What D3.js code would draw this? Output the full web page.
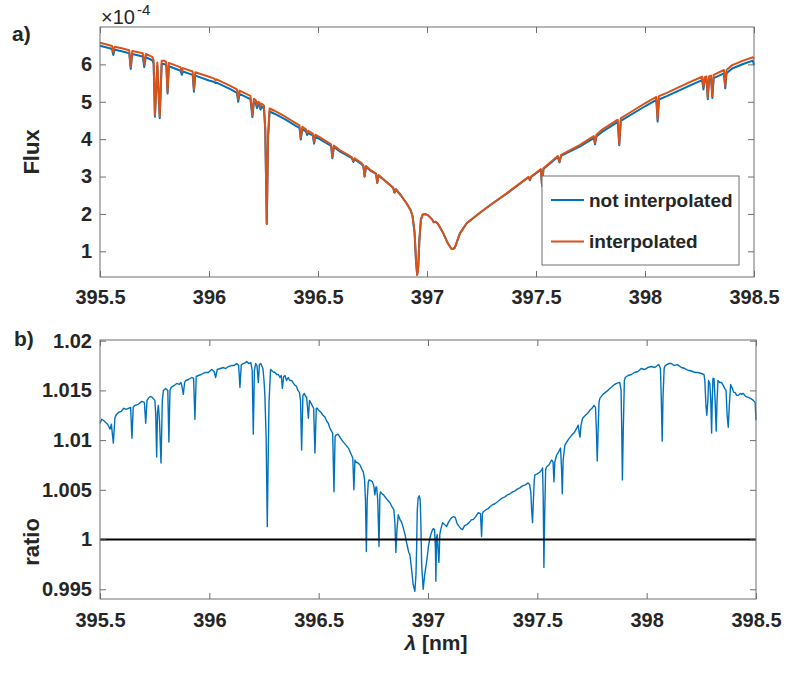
<!DOCTYPE html>
<html>
<head>
<meta charset="utf-8">
<script src="https://cdn.jsdelivr.net/npm/d3@7"></script>
<style>
  body { margin: 0; background: #fff; }
  svg text { font-family: "Liberation Sans", Arial, sans-serif; fill: #262626; }
</style>
</head>
<body>
<div id="chart"></div>
<script>
// spectrum, flux in units of 1e-4
var fluxLambda = [395.500,395.540,395.555,395.561,395.567,395.600,395.634,395.641,395.648,395.696,395.703,395.710,395.740,395.746,395.752,395.763,395.774,395.783,395.795,395.804,395.810,395.816,395.870,395.875,395.880,395.925,395.931,395.937,396.000,396.025,396.030,396.035,396.100,396.128,396.134,396.140,396.190,396.199,396.206,396.215,396.220,396.226,396.232,396.236,396.242,396.252,396.258,396.265,396.271,396.278,396.300,396.350,396.400,396.415,396.421,396.428,396.445,396.450,396.455,396.476,396.482,396.488,396.500,396.560,396.566,396.573,396.600,396.655,396.662,396.668,396.700,396.708,396.714,396.720,396.740,396.766,396.772,396.778,396.800,396.845,396.851,396.857,396.880,396.907,396.925,396.934,396.943,396.950,396.955,396.960,396.965,396.972,396.980,396.990,397.005,397.025,397.030,397.040,397.050,397.075,397.095,397.110,397.118,397.128,397.140,397.151,397.182,397.243,397.300,397.365,397.420,397.466,397.472,397.478,397.515,397.522,397.528,397.534,397.600,397.608,397.615,397.700,397.765,397.771,397.777,397.800,397.875,397.882,397.889,397.900,398.000,398.052,398.058,398.064,398.100,398.200,398.262,398.268,398.274,398.282,398.288,398.294,398.303,398.309,398.315,398.362,398.368,398.374,398.400,398.450,398.495,398.500];
var fluxInterp = [6.58,6.52,6.49,6.32,6.47,6.43,6.38,5.94,6.36,6.30,6.00,6.28,6.20,6.10,4.64,6.05,4.60,6.10,6.10,6.06,5.27,6.04,5.92,5.80,5.90,5.81,5.33,5.79,5.67,5.62,5.58,5.60,5.42,5.33,5.07,5.30,5.16,4.64,5.08,5.04,4.90,5.00,4.98,4.86,4.95,4.90,4.30,1.73,4.10,4.82,4.76,4.60,4.42,4.37,4.04,4.33,4.26,4.17,4.22,4.15,3.93,4.12,4.08,3.86,3.52,3.83,3.71,3.52,3.42,3.49,3.36,3.30,3.00,3.28,3.18,3.08,2.83,3.04,2.93,2.70,2.57,2.66,2.50,2.28,2.10,1.93,1.50,0.70,0.37,0.60,1.30,1.85,1.98,2.00,1.96,1.84,1.78,1.79,1.74,1.48,1.22,1.08,1.06,1.10,1.30,1.48,1.75,2.03,2.28,2.55,2.79,2.99,2.92,3.00,3.17,3.20,2.75,3.22,3.55,3.40,3.58,3.84,4.08,3.90,4.12,4.24,4.52,3.87,4.56,4.60,4.96,5.13,4.53,5.15,5.24,5.51,5.67,5.40,5.66,5.68,5.12,5.68,5.70,5.15,5.72,5.85,5.42,5.85,5.98,6.10,6.19,6.15];
var fluxNotInterp = [6.50,6.44,6.41,6.25,6.39,6.35,6.30,5.88,6.28,6.21,5.93,6.19,6.11,6.02,4.60,5.97,4.56,6.01,6.01,5.97,5.22,5.95,5.83,5.72,5.81,5.72,5.27,5.70,5.57,5.53,5.50,5.51,5.33,5.24,5.00,5.21,5.07,4.59,4.99,4.95,4.83,4.92,4.90,4.79,4.87,4.82,4.25,1.73,4.05,4.74,4.68,4.53,4.35,4.30,3.99,4.27,4.20,4.11,4.16,4.10,3.88,4.07,4.03,3.82,3.49,3.79,3.67,3.49,3.39,3.46,3.33,3.28,3.00,3.26,3.16,3.07,2.83,3.03,2.92,2.70,2.57,2.66,2.50,2.28,2.10,1.93,1.50,0.70,0.37,0.60,1.30,1.85,1.98,2.00,1.96,1.84,1.78,1.79,1.74,1.48,1.22,1.08,1.06,1.10,1.30,1.48,1.75,2.03,2.28,2.54,2.78,2.98,2.90,2.99,3.15,3.18,2.74,3.20,3.52,3.38,3.55,3.80,4.03,3.86,4.07,4.18,4.46,3.84,4.49,4.53,4.88,5.05,4.47,5.06,5.15,5.42,5.58,5.33,5.57,5.59,5.07,5.59,5.61,5.10,5.63,5.76,5.36,5.76,5.89,6.01,6.10,5.98];

// ratio interpolated / not interpolated
var ratioLambda = [395.500,395.508,395.515,395.525,395.535,395.546,395.552,395.561,395.568,395.573,395.585,395.597,395.609,395.620,395.640,395.646,395.652,395.660,395.675,395.691,395.703,395.709,395.715,395.721,395.730,395.739,395.751,395.755,395.759,395.763,395.767,395.772,395.779,395.785,395.790,395.800,395.810,395.815,395.820,395.825,395.840,395.851,395.863,395.870,395.875,395.881,395.887,395.892,395.905,395.919,395.928,395.934,395.940,395.950,395.962,395.980,395.995,396.011,396.022,396.029,396.036,396.050,396.065,396.075,396.087,396.100,396.112,396.125,396.134,396.140,396.146,396.155,396.165,396.171,396.180,396.190,396.196,396.201,396.206,396.212,396.218,396.224,396.229,396.235,396.245,396.250,396.254,396.260,396.265,396.269,396.273,396.280,396.290,396.300,396.308,396.316,396.323,396.329,396.334,396.340,396.346,396.353,396.361,396.368,396.376,396.385,396.392,396.399,396.405,396.412,396.417,396.422,396.428,396.434,396.440,396.445,396.453,396.458,396.463,396.470,396.477,396.483,396.489,396.494,396.500,396.510,396.520,396.529,396.537,396.544,396.550,396.556,396.564,396.570,396.575,396.579,396.589,396.600,396.613,396.625,396.636,396.646,396.656,396.661,396.666,396.670,396.680,396.689,396.697,396.704,396.710,396.714,396.718,396.722,396.727,396.731,396.740,396.746,396.752,396.757,396.762,396.765,396.770,396.776,396.780,396.783,396.790,396.797,396.803,396.810,396.818,396.826,396.835,396.844,396.849,396.853,396.858,396.864,396.872,396.880,396.888,396.895,396.902,396.907,396.912,396.917,396.925,396.932,396.940,396.945,396.948,396.951,396.955,396.960,396.964,396.967,396.971,396.978,396.985,396.994,397.002,397.009,397.017,397.024,397.030,397.034,397.036,397.039,397.042,397.046,397.050,397.054,397.058,397.067,397.076,397.085,397.095,397.108,397.118,397.125,397.133,397.143,397.150,397.158,397.167,397.177,397.188,397.199,397.207,397.218,397.230,397.240,397.245,397.249,397.253,397.265,397.275,397.283,397.295,397.306,397.318,397.329,397.341,397.352,397.364,397.375,397.387,397.398,397.410,397.420,397.432,397.445,397.458,397.465,397.470,397.474,397.478,397.482,397.486,397.489,397.500,397.512,397.520,397.524,397.527,397.530,397.534,397.538,397.542,397.553,397.565,397.572,397.576,397.580,397.588,397.597,397.606,397.611,397.614,397.618,397.626,397.640,397.657,397.670,397.680,397.687,397.691,397.695,397.700,397.707,397.720,397.730,397.740,397.750,397.759,397.766,397.770,397.774,397.778,397.782,397.786,397.800,397.817,397.832,397.847,397.862,397.877,397.883,397.886,397.889,397.893,397.898,397.902,397.915,397.930,397.944,397.960,397.975,397.990,398.005,398.021,398.037,398.055,398.063,398.067,398.071,398.075,398.080,398.085,398.100,398.113,398.125,398.140,398.159,398.175,398.190,398.197,398.210,398.222,398.235,398.250,398.262,398.266,398.271,398.275,398.280,398.283,398.289,398.293,398.297,398.300,398.303,398.308,398.313,398.318,398.322,398.326,398.334,398.342,398.350,398.357,398.363,398.368,398.373,398.378,398.384,398.392,398.398,398.404,398.412,398.419,398.428,398.435,398.442,398.452,398.465,398.475,398.488,398.496,398.500];
var ratioValues = [1.0117,1.0121,1.0120,1.0118,1.0116,1.0111,1.0116,1.0097,1.0122,1.0125,1.0128,1.0129,1.0132,1.0131,1.0133,1.0102,1.0133,1.0135,1.0136,1.0139,1.0138,1.0117,1.0140,1.0142,1.0144,1.0143,1.0140,1.0125,1.0083,1.0128,1.0135,1.0120,1.0077,1.0140,1.0150,1.0152,1.0150,1.0098,1.0150,1.0153,1.0155,1.0157,1.0156,1.0158,1.0154,1.0146,1.0158,1.0160,1.0161,1.0163,1.0162,1.0121,1.0164,1.0165,1.0166,1.0168,1.0168,1.0171,1.0169,1.0163,1.0171,1.0172,1.0173,1.0172,1.0174,1.0175,1.0175,1.0177,1.0175,1.0153,1.0176,1.0177,1.0178,1.0179,1.0177,1.0178,1.0170,1.0106,1.0170,1.0177,1.0175,1.0158,1.0176,1.0177,1.0172,1.0160,1.0145,1.0100,1.0013,1.0080,1.0138,1.0171,1.0169,1.0168,1.0166,1.0166,1.0163,1.0165,1.0152,1.0164,1.0165,1.0160,1.0163,1.0160,1.0160,1.0157,1.0155,1.0154,1.0150,1.0148,1.0140,1.0090,1.0145,1.0147,1.0144,1.0143,1.0122,1.0140,1.0138,1.0135,1.0132,1.0087,1.0132,1.0132,1.0130,1.0128,1.0125,1.0123,1.0119,1.0117,1.0113,1.0110,1.0107,1.0048,1.0103,1.0105,1.0106,1.0102,1.0098,1.0095,1.0092,1.0087,1.0082,1.0050,1.0080,1.0078,1.0077,1.0075,1.0071,1.0068,1.0060,1.0040,0.9988,1.0040,1.0058,1.0060,1.0059,1.0058,1.0054,1.0045,1.0053,1.0053,1.0040,0.9993,1.0045,1.0048,1.0046,1.0045,1.0043,1.0041,1.0039,1.0037,1.0033,1.0030,1.0015,0.9987,1.0010,1.0025,1.0020,1.0017,1.0011,1.0005,0.9997,0.9992,0.9987,0.9985,0.9970,0.9955,0.9948,0.9965,0.9992,1.0030,1.0042,1.0044,1.0040,1.0020,0.9975,0.9950,0.9965,0.9978,0.9993,1.0002,1.0008,1.0011,1.0010,0.9990,0.9958,1.0002,1.0005,0.9990,0.9977,1.0005,1.0010,1.0017,1.0015,1.0013,1.0018,1.0022,1.0023,1.0022,1.0016,1.0013,1.0011,1.0010,1.0014,1.0015,1.0017,1.0020,1.0020,1.0023,1.0027,1.0026,1.0003,1.0026,1.0028,1.0030,1.0031,1.0033,1.0035,1.0036,1.0038,1.0040,1.0042,1.0043,1.0045,1.0046,1.0048,1.0049,1.0051,1.0052,1.0054,1.0055,1.0057,1.0055,1.0048,1.0030,1.0017,1.0040,1.0060,1.0065,1.0066,1.0068,1.0070,1.0072,1.0040,0.9972,1.0030,1.0070,1.0073,1.0075,1.0080,1.0078,1.0058,1.0078,1.0085,1.0088,1.0092,1.0070,1.0046,1.0080,1.0095,1.0100,1.0105,1.0108,1.0112,1.0115,1.0108,1.0103,1.0115,1.0122,1.0125,1.0127,1.0130,1.0132,1.0135,1.0133,1.0110,1.0079,1.0110,1.0138,1.0142,1.0146,1.0149,1.0152,1.0155,1.0157,1.0158,1.0150,1.0110,1.0060,1.0110,1.0160,1.0163,1.0165,1.0166,1.0168,1.0169,1.0172,1.0171,1.0173,1.0174,1.0173,1.0176,1.0172,1.0140,1.0099,1.0145,1.0172,1.0175,1.0177,1.0177,1.0175,1.0176,1.0173,1.0172,1.0170,1.0170,1.0169,1.0168,1.0168,1.0167,1.0166,1.0160,1.0135,1.0125,1.0140,1.0160,1.0157,1.0140,1.0107,1.0140,1.0162,1.0162,1.0140,1.0109,1.0140,1.0160,1.0158,1.0158,1.0155,1.0152,1.0150,1.0125,1.0113,1.0135,1.0156,1.0152,1.0148,1.0148,1.0145,1.0145,1.0147,1.0146,1.0147,1.0144,1.0143,1.0142,1.0140,1.0138,1.0120];

var xTicks = [395.5, 396, 396.5, 397, 397.5, 398, 398.5];
var fluxTicks = [1, 2, 3, 4, 5, 6];
var ratioTicks = [0.995, 1, 1.005, 1.01, 1.015, 1.02];
var seriesNames = ["not interpolated", "interpolated"];
var seriesColors = ["#0072BD", "#D95319"];

var svgWidth = 789;
var svgHeight = 682;
var axisColor = "#6e6e6e";

var svg = d3.select("#chart")
    .append("svg")
    .attr("width", svgWidth)
    .attr("height", svgHeight);

//panel boxes in pixels
var boxA = {left: 100, right: 754, top: 27, bottom: 277};
var boxB = {left: 100, right: 756, top: 340, bottom: 599};

var fmt = function (d) { return String(+d.toFixed(3)); };

function drawAxes(box, x, y, yTicks, xPad) {
    var g = svg.append("g");
    var bottom = d3.axisBottom(x).tickValues(xTicks).tickSize(-6).tickPadding(xPad).tickFormat(fmt);
    var top = d3.axisTop(x).tickValues(xTicks).tickSize(-6).tickFormat("");
    var left = d3.axisLeft(y).tickValues(yTicks).tickSize(-6).tickPadding(8).tickFormat(fmt);
    var right = d3.axisRight(y).tickValues(yTicks).tickSize(-6).tickFormat("");

    g.append("g").attr("transform", `translate(0, ${box.bottom})`).call(bottom);
    g.append("g").attr("transform", `translate(0, ${box.top})`).call(top);
    g.append("g").attr("transform", `translate(${box.left}, 0)`).call(left);
    g.append("g").attr("transform", `translate(${box.right}, 0)`).call(right);

    g.selectAll(".domain").remove();
    g.selectAll(".tick line").attr("stroke", axisColor);
    g.selectAll(".tick text")
        .attr("fill", "#262626")
        .style("font-size", "20px")
        .style("font-weight", "bold")
        .style("font-family", "'Liberation Sans', Arial, sans-serif");

    g.append("rect")
        .attr("x", box.left)
        .attr("y", box.top)
        .attr("width", box.right - box.left)
        .attr("height", box.bottom - box.top)
        .attr("fill", "none")
        .attr("stroke", axisColor)
        .attr("stroke-width", 1);
}

// ---- panel a) flux ----
var xA = d3.scaleLinear().domain([395.5, 398.5]).range([boxA.left, boxA.right]);
var yA = d3.scaleLinear().domain([0.313, 7.0]).range([boxA.bottom, boxA.top]);

var fluxLine = function (vals) {
    return d3.line()
        .x(function (d, i) { return xA(fluxLambda[i]); })
        .y(function (d) { return yA(d); })(vals);
};

svg.append("path")
    .attr("d", fluxLine(fluxNotInterp))
    .attr("fill", "none")
    .attr("stroke", seriesColors[0])
    .attr("stroke-width", 2)
    .attr("stroke-linejoin", "round");

svg.append("path")
    .attr("d", fluxLine(fluxInterp))
    .attr("fill", "none")
    .attr("stroke", seriesColors[1])
    .attr("stroke-width", 2)
    .attr("stroke-linejoin", "round");

drawAxes(boxA, xA, yA, fluxTicks, 13);

//exponent label, x10^-4
svg.append("text")
    .attr("x", 101)
    .attr("y", 24)
    .style("font-size", "20px")
    .text("\u00d710");
svg.append("text")
    .attr("x", 137)
    .attr("y", 15)
    .style("font-size", "15px")
    .text("-4");

//legend
var legend = svg.append("g");
legend.append("rect")
    .attr("x", 542).attr("y", 176)
    .attr("width", 197).attr("height", 89)
    .attr("fill", "#fff")
    .attr("stroke", axisColor);
seriesNames.forEach(function (name, i) {
    var ly = 200 + i * 41.5;
    legend.append("line")
        .attr("x1", 551).attr("x2", 584)
        .attr("y1", ly).attr("y2", ly)
        .attr("stroke", seriesColors[i])
        .attr("stroke-width", 2);
    legend.append("text")
        .attr("x", 589).attr("y", ly)
        .attr("dy", "0.35em")
        .style("font-size", "19px")
        .style("font-weight", "bold")
        .text(name);
});

svg.append("text")
    .attr("transform", "translate(39, 152) rotate(-90)")
    .attr("text-anchor", "middle")
    .style("font-size", "22px")
    .style("font-weight", "bold")
    .text("Flux");

svg.append("text")
    .attr("x", 12).attr("y", 41)
    .style("font-size", "21px")
    .style("font-weight", "bold")
    .text("a)");

// ---- panel b) ratio ----
var xB = d3.scaleLinear().domain([395.5, 398.5]).range([boxB.left, boxB.right]);
var yB = d3.scaleLinear().domain([0.99402, 1.02007]).range([boxB.bottom, boxB.top]);

svg.append("path")
    .attr("d", d3.line()
        .x(function (d, i) { return xB(ratioLambda[i]); })
        .y(function (d) { return yB(d); })(ratioValues))
    .attr("fill", "none")
    .attr("stroke", seriesColors[0])
    .attr("stroke-width", 1.4)
    .attr("stroke-linejoin", "round");

svg.append("line")
    .attr("x1", boxB.left).attr("x2", boxB.right)
    .attr("y1", yB(1)).attr("y2", yB(1))
    .attr("stroke", "#000")
    .attr("stroke-width", 2);

drawAxes(boxB, xB, yB, ratioTicks, 14);

svg.append("text")
    .attr("transform", "translate(39, 542) rotate(-90)")
    .attr("text-anchor", "middle")
    .style("font-size", "22px")
    .style("font-weight", "bold")
    .text("ratio");

svg.append("text")
    .attr("x", 14).attr("y", 346)
    .style("font-size", "21px")
    .style("font-weight", "bold")
    .text("b)");

var xlab = svg.append("text")
    .attr("x", 436).attr("y", 650)
    .attr("text-anchor", "middle")
    .style("font-size", "21px")
    .style("font-weight", "bold");
xlab.append("tspan").style("font-style", "italic").text("\u03bb");
xlab.append("tspan").text(" [nm]");
</script>
</body>
</html>
